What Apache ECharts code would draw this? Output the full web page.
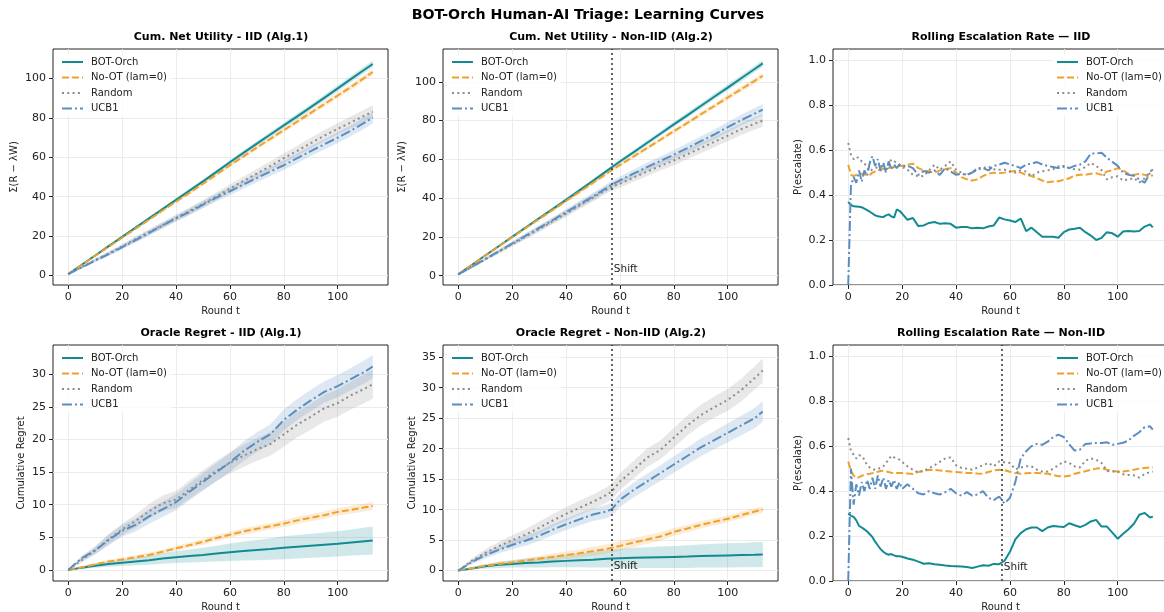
<!DOCTYPE html>
<html>
<head>
<meta charset="utf-8">
<title>BOT-Orch Human-AI Triage: Learning Curves</title>
<script src="https://cdn.jsdelivr.net/npm/echarts@6/dist/echarts.min.js"></script>
<style>
html, body { margin: 0; padding: 0; background: #fff; }
#main { width: 1164px; height: 612px; }
</style>
</head>
<body>
<div id="main"></div>
<script>
// ---- data ----
var NAMES = ['BOT-Orch', 'No-OT (lam=0)', 'Random', 'UCB1'];
var SHIFT_X = 57;

// tick labels
var X_TICKS = [0, 20, 40, 60, 80, 100];
var UTIL_TICKS = [0, 20, 40, 60, 80, 100];
var ESC_TICKS = [0, 0.2, 0.4, 0.6, 0.8, 1.0];
var REG1_TICKS = [0, 5, 10, 15, 20, 25, 30];
var REG2_TICKS = [0, 5, 10, 15, 20, 25, 30, 35];

// rounds sampled for cumulative panels
var ROUNDS_IID = [0,5,10,15,20,25,30,35,40,45,50,55,60,65,70,75,80,85,90,95,100,105,110,113];
var ROUNDS_NIID = [0,5,10,15,20,25,30,35,40,45,50,55,57,60,65,70,75,80,85,90,95,100,105,110,113];
// rounds sampled for escalation panels
var ROUNDS_ESC = [0,1,2,3,4,5,6,7,8,9,10,11,12,13,14,15,16,17,18,19,20,22,24,26,28,30,32,34,36,38,40,42,44,46,48,50,52,54,56,58,60,62,64,66,68,70,72,74,76,78,80,82,84,86,88,90,92,94,96,98,100,102,104,106,108,110,112,113];

// Cum. net utility - IID
var util1Bot  = [0.7,5.5,10.2,14.9,19.6,24.3,29.0,33.7,38.4,43.1,47.8,52.6,57.5,62.3,67.0,71.6,76.2,80.8,85.5,90.2,95.0,99.8,104.6,107.4];
var util1NoOt = [0.7,5.4,10.0,14.6,19.2,23.8,28.4,33.0,37.5,42.0,46.6,51.3,56.0,60.5,65.0,69.4,73.8,78.2,82.6,87.0,91.4,95.8,100.5,103.3];
var util1Rand = [0.7,4.3,7.9,11.2,14.8,18.5,22.0,25.6,29.2,32.8,36.4,40.2,44.2,48.0,51.8,55.6,59.6,63.3,67.2,71.0,74.5,77.8,81.2,83.2];
var util1Ucb  = [0.7,4.1,7.6,10.9,14.4,18.0,21.7,25.4,29.0,32.3,36.0,39.6,42.8,46.2,49.5,52.8,56.0,59.6,63.2,66.6,70.0,73.6,77.6,80.2];
var util1BotSd  = [0,0.3,0.4,0.5,0.6,0.7,0.8,0.85,0.9,0.95,1.0,1.05,1.1,1.15,1.2,1.3,1.35,1.4,1.45,1.5,1.55,1.6,1.7,1.75];
var util1NoOtSd = [0,0.3,0.4,0.5,0.55,0.6,0.7,0.75,0.8,0.85,0.9,0.95,1.0,1.05,1.1,1.15,1.2,1.25,1.3,1.35,1.4,1.45,1.5,1.5];
var util1RandSd = [0,0.5,0.8,1.0,1.2,1.4,1.5,1.6,1.7,1.8,1.9,2.0,2.1,2.2,2.3,2.4,2.5,2.6,2.7,2.8,2.9,3.0,3.1,3.2];
var util1UcbSd  = [0,0.5,0.8,1.0,1.1,1.3,1.4,1.5,1.6,1.7,1.8,1.9,2.0,2.1,2.2,2.3,2.4,2.45,2.5,2.6,2.7,2.8,2.9,3.0];

// Cum. net utility - Non-IID
var util2Bot  = [0.7,5.5,10.4,15.2,20.0,24.8,29.6,34.3,39.1,44.0,48.9,53.9,55.9,58.9,63.6,68.4,73.2,78.0,82.7,87.5,92.3,97.0,101.8,106.6,109.5];
var util2NoOt = [0.7,5.5,10.3,15.0,19.8,24.5,29.2,33.8,38.5,43.2,47.9,52.6,54.5,57.1,61.4,65.8,70.1,74.5,78.8,83.2,87.5,91.9,96.2,100.5,103.1];
var util2Rand = [0.7,4.4,8.4,12.3,16.2,20.1,24.0,28.0,32.0,36.2,40.2,44.4,45.8,47.4,50.6,53.6,56.6,59.4,62.6,65.8,69.0,72.2,75.6,78.4,80.0];
var util2Ucb  = [0.7,4.5,8.6,12.6,16.6,20.6,24.6,28.6,32.8,36.8,40.8,45.2,47.0,49.2,52.6,56.0,59.2,62.4,65.8,69.4,72.8,76.6,80.2,83.6,85.6];
var util2BotSd  = [0,0.3,0.4,0.5,0.6,0.7,0.8,0.85,0.9,0.95,1.0,1.05,1.1,1.1,1.15,1.2,1.3,1.35,1.4,1.45,1.5,1.55,1.6,1.7,1.75];
var util2NoOtSd = [0,0.3,0.4,0.5,0.55,0.6,0.7,0.75,0.8,0.85,0.9,0.95,0.95,1.0,1.05,1.1,1.15,1.2,1.25,1.3,1.35,1.4,1.45,1.5,1.5];
var util2RandSd = [0,0.5,0.8,1.0,1.2,1.4,1.5,1.6,1.7,1.8,1.9,2.0,2.0,2.1,2.2,2.3,2.4,2.5,2.6,2.7,2.8,2.9,3.0,3.1,3.2];
var util2UcbSd  = [0,0.5,0.8,1.0,1.1,1.3,1.4,1.5,1.6,1.7,1.8,1.9,1.9,2.0,2.1,2.2,2.3,2.4,2.45,2.5,2.6,2.7,2.8,2.9,3.0];

// Oracle regret - IID
var reg1Bot  = [0,0.35,0.65,0.9,1.1,1.3,1.5,1.75,1.95,2.15,2.3,2.5,2.7,2.9,3.05,3.2,3.4,3.55,3.7,3.85,4.0,4.2,4.4,4.5];
var reg1NoOt = [0,0.4,0.85,1.3,1.6,1.95,2.3,2.8,3.3,3.8,4.3,4.9,5.4,5.9,6.3,6.7,7.1,7.6,8.0,8.4,8.9,9.2,9.6,9.8];
var reg1Rand = [0,1.5,3.0,4.7,6.2,7.5,9.0,10.2,10.8,12.3,13.8,15.2,16.4,17.5,18.5,19.3,20.8,22.3,23.5,24.8,25.6,26.8,27.8,28.5];
var reg1Ucb  = [0,1.8,3.0,4.6,6.0,6.9,8.2,9.3,10.4,12.0,13.5,15.0,16.5,18.2,19.6,20.8,23.0,24.6,26.0,27.3,28.2,29.3,30.4,31.2];
var reg1BotSd  = [0,0.2,0.3,0.4,0.5,0.6,0.7,0.8,0.9,1.0,1.1,1.2,1.35,1.45,1.55,1.65,1.75,1.8,1.85,1.9,1.95,2.0,2.1,2.15];
var reg1NoOtSd = [0,0.15,0.2,0.25,0.3,0.3,0.35,0.35,0.4,0.4,0.45,0.45,0.45,0.5,0.5,0.5,0.5,0.55,0.55,0.55,0.55,0.6,0.6,0.6];
var reg1RandSd = [0,0.4,0.6,0.8,0.9,1.0,1.1,1.2,1.3,1.4,1.5,1.55,1.6,1.7,1.75,1.8,1.9,1.95,2.0,2.05,2.1,2.15,2.2,2.2];
var reg1UcbSd  = [0,0.4,0.6,0.8,0.9,1.0,1.1,1.2,1.25,1.3,1.35,1.4,1.45,1.5,1.5,1.55,1.6,1.6,1.65,1.65,1.7,1.7,1.75,1.8];

// Oracle regret - Non-IID
var reg2Bot  = [0,0.35,0.7,0.95,1.1,1.25,1.35,1.5,1.6,1.7,1.8,1.95,2.0,2.05,2.1,2.15,2.2,2.25,2.3,2.4,2.45,2.5,2.55,2.6,2.65];
var reg2NoOt = [0,0.4,0.8,1.1,1.35,1.65,1.95,2.25,2.55,2.85,3.2,3.55,3.75,4.05,4.6,5.1,5.6,6.35,6.9,7.5,8.0,8.5,9.1,9.7,10.0];
var reg2Rand = [0,1.6,2.9,4.0,5.0,5.9,7.0,8.2,9.3,10.3,11.3,12.4,13.0,14.6,16.5,18.5,19.8,21.8,23.8,25.5,26.8,28.0,29.6,31.6,32.8];
var reg2Ucb  = [0,1.4,2.5,3.4,4.2,4.9,5.7,6.7,7.6,8.4,9.2,9.7,10.1,11.6,13.2,14.6,16.0,17.4,18.8,20.2,21.4,22.6,23.8,25.0,26.1];
var reg2BotSd  = [0,0.2,0.35,0.5,0.6,0.75,0.85,0.95,1.05,1.15,1.3,1.45,1.5,1.55,1.65,1.7,1.75,1.8,1.85,1.9,1.95,2.0,2.0,2.05,2.05];
var reg2NoOtSd = [0,0.15,0.2,0.3,0.35,0.4,0.45,0.55,0.6,0.65,0.7,0.75,0.8,0.8,0.75,0.7,0.7,0.65,0.6,0.6,0.6,0.55,0.55,0.55,0.55];
var reg2RandSd = [0,0.4,0.6,0.7,0.8,0.9,1.0,1.05,1.1,1.15,1.2,1.25,1.3,1.4,1.45,1.5,1.55,1.6,1.65,1.7,1.75,1.8,1.85,1.9,2.0];
var reg2UcbSd  = [0,0.35,0.5,0.6,0.7,0.8,0.85,0.9,0.95,1.0,1.05,1.1,1.1,1.15,1.2,1.25,1.3,1.35,1.4,1.45,1.5,1.55,1.6,1.65,1.7];

// Rolling escalation rate - IID
var esc1Bot = [0.37,0.356,0.35,0.349,0.348,0.346,0.34,0.333,0.326,0.318,0.31,0.306,0.304,0.302,0.31,0.314,0.305,0.3,0.336,0.33,0.318,
  0.29,0.298,0.262,0.265,0.276,0.28,0.272,0.275,0.272,0.255,0.258,0.258,0.252,0.255,0.252,0.26,0.265,0.3,0.292,0.287,0.28,0.296,0.24,0.255,0.235,0.215,0.215,0.215,0.21,0.235,0.247,0.25,0.255,0.235,0.22,0.2,0.21,0.235,0.23,0.215,0.238,0.24,0.238,0.24,0.26,0.27,
  0.256];
var esc1NoOt = [0.535,0.49,0.485,0.49,0.496,0.495,0.492,0.49,0.49,0.5,0.505,0.51,0.514,0.517,0.52,0.52,0.522,0.525,0.528,0.53,0.53,
  0.535,0.54,0.52,0.51,0.505,0.5,0.51,0.516,0.52,0.5,0.48,0.47,0.465,0.47,0.485,0.495,0.5,0.497,0.5,0.505,0.507,0.5,0.49,0.485,0.475,0.465,0.457,0.46,0.462,0.468,0.475,0.487,0.49,0.49,0.495,0.497,0.49,0.505,0.51,0.52,0.51,0.495,0.49,0.495,0.49,0.48,
  0.49];
var esc1Rand = [0.632,0.58,0.56,0.57,0.565,0.55,0.543,0.52,0.506,0.515,0.52,0.525,0.528,0.52,0.513,0.54,0.558,0.55,0.545,0.535,0.525,
  0.513,0.49,0.485,0.484,0.51,0.535,0.513,0.53,0.55,0.513,0.5,0.49,0.5,0.513,0.52,0.528,0.515,0.513,0.513,0.505,0.5,0.51,0.505,0.484,0.5,0.506,0.51,0.515,0.528,0.525,0.52,0.515,0.513,0.525,0.543,0.53,0.51,0.47,0.48,0.484,0.465,0.47,0.476,0.456,0.475,0.505,
  0.513];
var esc1Ucb = [0,0.44,0.48,0.455,0.51,0.46,0.51,0.485,0.545,0.573,0.53,0.56,0.507,0.545,0.5,0.55,0.514,0.536,0.52,0.536,0.53,
  0.53,0.52,0.49,0.507,0.5,0.51,0.49,0.52,0.505,0.49,0.495,0.49,0.5,0.52,0.52,0.51,0.53,0.536,0.544,0.536,0.53,0.52,0.536,0.54,0.547,0.536,0.53,0.525,0.52,0.53,0.52,0.53,0.536,0.55,0.585,0.585,0.588,0.566,0.548,0.53,0.5,0.49,0.486,0.47,0.455,0.5,
  0.514];

// Rolling escalation rate - Non-IID
var esc2Bot = [0.3,0.29,0.285,0.27,0.245,0.238,0.23,0.22,0.208,0.195,0.175,0.158,0.142,0.13,0.122,0.117,0.12,0.114,0.11,0.11,0.108,
  0.1,0.095,0.086,0.077,0.079,0.075,0.072,0.069,0.067,0.066,0.065,0.062,0.058,0.064,0.07,0.068,0.076,0.075,0.09,0.13,0.185,0.213,0.23,0.238,0.238,0.222,0.238,0.245,0.242,0.24,0.257,0.248,0.24,0.25,0.265,0.272,0.242,0.242,0.215,0.188,0.21,0.23,0.255,0.295,0.303,0.282,
  0.287];
var esc2NoOt = [0.532,0.49,0.47,0.458,0.462,0.468,0.472,0.475,0.477,0.48,0.483,0.486,0.489,0.49,0.488,0.485,0.482,0.48,0.48,0.48,0.48,
  0.478,0.476,0.485,0.49,0.495,0.494,0.492,0.49,0.487,0.485,0.483,0.481,0.48,0.478,0.477,0.485,0.492,0.495,0.493,0.486,0.48,0.477,0.479,0.48,0.48,0.479,0.477,0.472,0.466,0.465,0.468,0.477,0.483,0.488,0.495,0.5,0.502,0.495,0.49,0.487,0.487,0.49,0.495,0.5,0.503,0.505,
  0.505];
var esc2Rand = [0.636,0.58,0.562,0.545,0.56,0.556,0.54,0.515,0.505,0.498,0.495,0.5,0.502,0.51,0.525,0.54,0.557,0.55,0.545,0.54,0.53,
  0.51,0.495,0.483,0.49,0.502,0.515,0.53,0.545,0.55,0.515,0.503,0.5,0.495,0.505,0.515,0.525,0.51,0.532,0.528,0.525,0.497,0.505,0.51,0.51,0.495,0.487,0.487,0.5,0.515,0.532,0.525,0.51,0.505,0.535,0.545,0.54,0.525,0.49,0.487,0.487,0.475,0.472,0.47,0.46,0.476,0.485,
  0.487];
var esc2Ucb = [0,0.5,0.34,0.43,0.38,0.44,0.4,0.45,0.41,0.46,0.41,0.47,0.42,0.46,0.41,0.45,0.42,0.45,0.41,0.44,0.41,
  0.43,0.41,0.39,0.385,0.4,0.39,0.385,0.395,0.41,0.39,0.38,0.395,0.38,0.385,0.4,0.37,0.36,0.376,0.345,0.37,0.44,0.546,0.577,0.6,0.61,0.606,0.62,0.64,0.651,0.64,0.608,0.58,0.585,0.61,0.612,0.614,0.614,0.617,0.606,0.61,0.615,0.625,0.646,0.662,0.685,0.688,
  0.673];

// ---- styles ----
var FONT = 'DejaVu Sans';
var COLORS = ['#128a91', '#f0a12b', '#8c8c8c', '#5b8dc0'];
var DASHES = ['solid', [7, 3], [2, 3.3], [10, 3, 2, 3]];

var GRIDS = [
  { left: 53,  top: 49,  width: 335, height: 236 },
  { left: 443, top: 49,  width: 335, height: 236 },
  { left: 833, top: 49,  width: 335, height: 236 },
  { left: 53,  top: 345, width: 335, height: 236 },
  { left: 443, top: 345, width: 335, height: 236 },
  { left: 833, top: 345, width: 335, height: 236 }
];

var panels = [
  { title: 'Cum. Net Utility - IID (Alg.1)', x: ROUNDS_IID, ys: [util1Bot, util1NoOt, util1Rand, util1Ucb],
    sd: [util1BotSd, util1NoOtSd, util1RandSd, util1UcbSd], yName: 'Σ(R − λW)', yMin: -4.8, yMax: 115, ticks: UTIL_TICKS, dec: 0, nameGap: 34, legend: 'left', shiftY: null },
  { title: 'Cum. Net Utility - Non-IID (Alg.2)', x: ROUNDS_NIID, ys: [util2Bot, util2NoOt, util2Rand, util2Ucb],
    sd: [util2BotSd, util2NoOtSd, util2RandSd, util2UcbSd], yName: 'Σ(R − λW)', yMin: -4.8, yMax: 116.9, ticks: UTIL_TICKS, dec: 0, nameGap: 36, legend: 'left', shiftY: 3.2 },
  { title: 'Rolling Escalation Rate — IID', x: ROUNDS_ESC, ys: [esc1Bot, esc1NoOt, esc1Rand, esc1Ucb],
    sd: null, yName: 'P(escalate)', yMin: 0, yMax: 1.05, ticks: ESC_TICKS, dec: 1, nameGap: 30, legend: 'right', shiftY: null },
  { title: 'Oracle Regret - IID (Alg.1)', x: ROUNDS_IID, ys: [reg1Bot, reg1NoOt, reg1Rand, reg1Ucb],
    sd: [reg1BotSd, reg1NoOtSd, reg1RandSd, reg1UcbSd], yName: 'Cumulative Regret', yMin: -1.7, yMax: 34.5, ticks: REG1_TICKS, dec: 0, nameGap: 27, legend: 'left', shiftY: null },
  { title: 'Oracle Regret - Non-IID (Alg.2)', x: ROUNDS_NIID, ys: [reg2Bot, reg2NoOt, reg2Rand, reg2Ucb],
    sd: [reg2BotSd, reg2NoOtSd, reg2RandSd, reg2UcbSd], yName: 'Cumulative Regret', yMin: -1.7, yMax: 37, ticks: REG2_TICKS, dec: 0, nameGap: 26, legend: 'left', shiftY: 0.7 },
  { title: 'Rolling Escalation Rate — Non-IID', x: ROUNDS_ESC, ys: [esc2Bot, esc2NoOt, esc2Rand, esc2Ucb],
    sd: null, yName: 'P(escalate)', yMin: 0, yMax: 1.05, ticks: ESC_TICKS, dec: 1, nameGap: 30, legend: 'right', shiftY: 0.061 }
];

// shaded band drawn as one polygon through the axes' own coordinate mapping
function bandRenderer(rows, color) {
  return function (params, api) {
    if (params.dataIndex !== 0) return null;
    var pts = [], i;
    for (i = 0; i < rows.length; i++) pts.push(api.coord([rows[i][0], rows[i][2]]));
    for (i = rows.length - 1; i >= 0; i--) pts.push(api.coord([rows[i][0], rows[i][1]]));
    return {
      type: 'polygon',
      shape: { points: pts },
      style: { fill: color, opacity: 0.2, stroke: null },
      silent: true
    };
  };
}

var titles = [{
  text: 'BOT-Orch Human-AI Triage: Learning Curves', left: 583, top: 3, textAlign: 'center',
  textStyle: { fontFamily: FONT, fontSize: 14.2, fontWeight: 'bold', color: '#000' }
}];
var xAxes = [], yAxes = [], legends = [], series = [];

panels.forEach(function (p, gi) {
  var g = GRIDS[gi];
  titles.push({
    text: p.title, left: g.left + 163, top: g.top - 22, textAlign: 'center',
    textStyle: { fontFamily: FONT, fontSize: 11, fontWeight: 'bold', color: '#000' }
  });

  xAxes.push({
    type: 'value', gridIndex: gi, min: -5.65, max: 118.65, splitNumber: 6,
    name: 'Round t', nameLocation: 'middle', nameGap: 21,
    nameTextStyle: { fontFamily: FONT, fontSize: 10, color: '#222' },
    axisLine: { show: false, onZero: false },
    axisTick: { show: true, length: 4, lineStyle: { color: '#222' }, customValues: X_TICKS },
    axisLabel: { fontFamily: FONT, fontSize: 11, color: '#222', margin: 7, customValues: X_TICKS,
      formatter: function (v) { return v.toFixed(0); } },
    splitLine: { show: true, lineStyle: { color: '#ebebeb', width: 1 } }
  });
  yAxes.push({
    type: 'value', gridIndex: gi, min: p.yMin, max: p.yMax, splitNumber: p.ticks.length - 1,
    name: p.yName, nameLocation: 'middle', nameGap: p.nameGap, nameRotate: 90,
    nameTextStyle: { fontFamily: FONT, fontSize: 10, color: '#222' },
    axisLine: { show: false, onZero: false },
    axisTick: { show: true, length: 4, lineStyle: { color: '#222' }, customValues: p.ticks },
    axisLabel: { fontFamily: FONT, fontSize: 11, color: '#222', margin: 7, customValues: p.ticks,
      formatter: (function (d) { return function (v) { return v.toFixed(d); }; })(p.dec) },
    splitLine: { show: true, lineStyle: { color: '#ebebeb', width: 1 } }
  });

  legends.push({
    data: NAMES, orient: 'vertical',
    left: p.legend === 'left' ? g.left + 4 : g.left + 219,
    top: g.top + 5,
    itemWidth: 21, itemHeight: 12, itemGap: 5.5,
    padding: [3, 4, 3, 4],
    backgroundColor: 'rgba(255,255,255,0.8)',
    itemStyle: { color: 'rgba(0,0,0,0)', borderWidth: 0, opacity: 0 },
    textStyle: { fontFamily: FONT, fontSize: 10, color: '#222', padding: [0, 0, 0, 3] },
    selectedMode: false
  });

  if (p.sd) {
    for (var k = 0; k < 4; k++) {
      var rows = [];
      for (var i = 0; i < p.x.length; i++) {
        rows.push([p.x[i], p.ys[k][i] - p.sd[k][i], p.ys[k][i] + p.sd[k][i]]);
      }
      series.push({
        type: 'custom', name: 'band-' + gi + '-' + k, xAxisIndex: gi, yAxisIndex: gi,
        data: rows, encode: { x: 0, y: [1, 2] }, silent: true, z: 1,
        renderItem: bandRenderer(rows, COLORS[k])
      });
    }
  }

  for (var k2 = 0; k2 < 4; k2++) {
    var pts = [];
    for (var j = 0; j < p.x.length; j++) pts.push([p.x[j], p.ys[k2][j]]);
    var s = {
      type: 'line', name: NAMES[k2], xAxisIndex: gi, yAxisIndex: gi, data: pts,
      symbol: 'none', showSymbol: false,
      lineStyle: { color: COLORS[k2], width: 2, type: DASHES[k2] },
      itemStyle: { color: COLORS[k2] }, z: 3
    };
    if (k2 === 0 && p.shiftY !== null) {
      s.markLine = {
        silent: true, symbol: 'none', animation: false,
        lineStyle: { color: '#333', width: 1.5, type: [2, 3] },
        label: { show: false },
        data: [{ xAxis: SHIFT_X }]
      };
      s.markPoint = {
        silent: true, animation: false,
        data: [{ coord: [SHIFT_X, p.shiftY], symbol: 'circle', symbolSize: 0 }],
        label: { show: true, position: 'right', distance: 2, formatter: 'Shift',
          fontFamily: FONT, fontSize: 10.5, color: '#222' }
      };
    }
    series.push(s);
  }
});

var chart = echarts.init(document.getElementById('main'));
chart.setOption({
  animation: false,
  backgroundColor: '#fff',
  title: titles,
  legend: legends,
  grid: GRIDS.map(function (g) {
    return { left: g.left, top: g.top, width: g.width, height: g.height,
      show: true, borderColor: '#222', borderWidth: 1, containLabel: false, outerBoundsMode: 'none' };
  }),
  xAxis: xAxes,
  yAxis: yAxes,
  series: series
});
window.onresize = chart.resize;
</script>
</body>
</html>
